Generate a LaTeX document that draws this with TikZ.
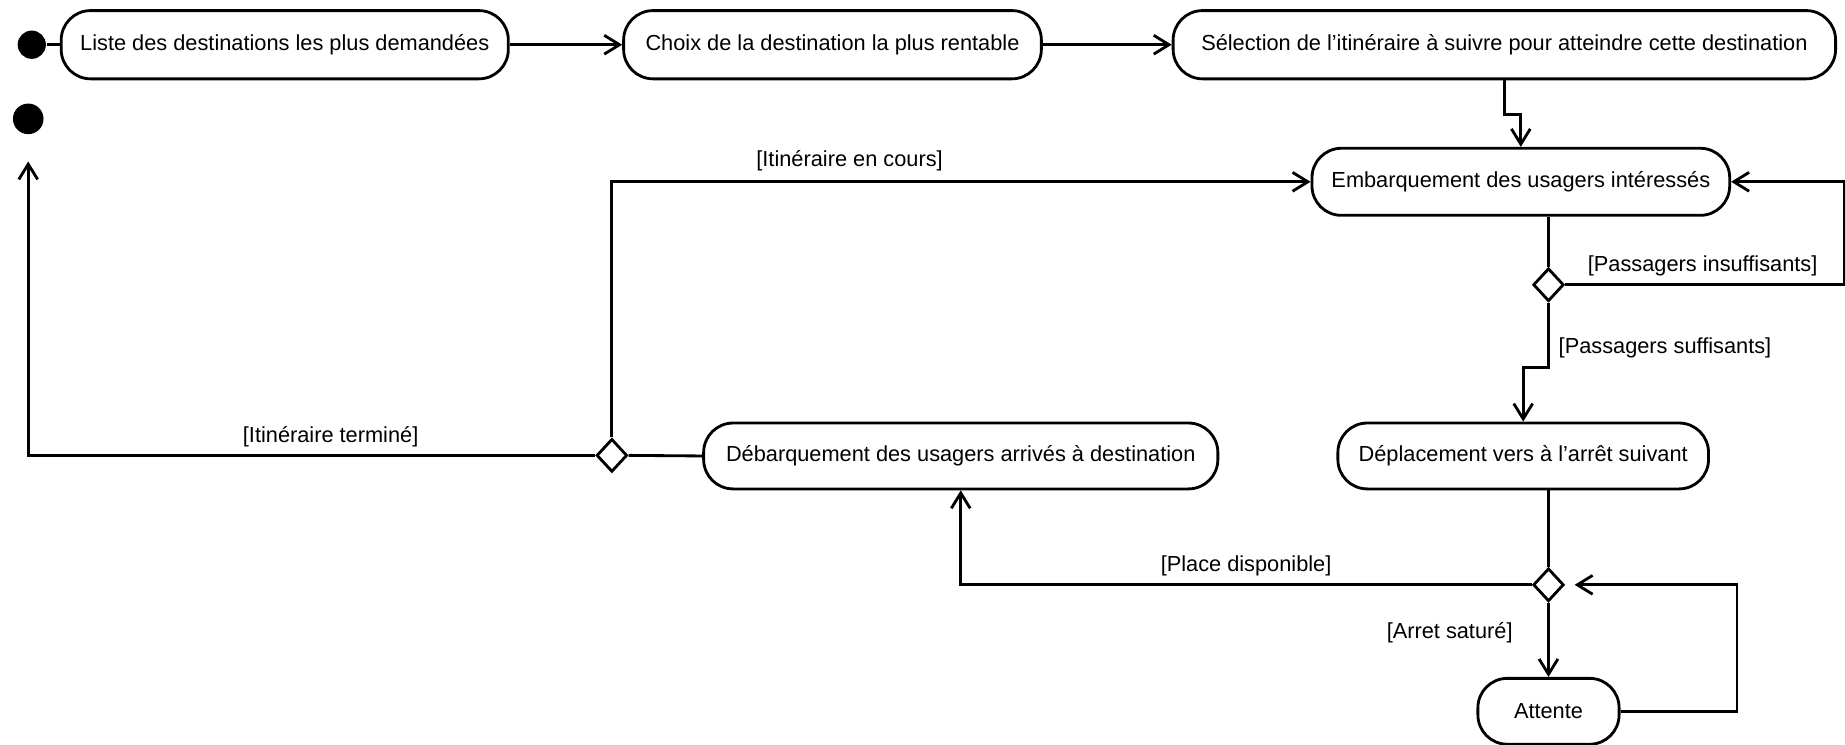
\documentclass[tikz,border=0pt]{standalone}
\usepackage{fontspec}
\setmainfont{Liberation Sans}
\usetikzlibrary{shapes.geometric}
\usetikzlibrary{arrows.meta}

\begin{document}
\begin{tikzpicture}[x=1pt,y=-1pt,line width=2.4pt,
  >={Straight Barb[length=13pt,width=16pt]},
  activite/.style={draw,rounded corners=25pt,minimum height=58pt,inner xsep=6pt,font=\fontsize{18.5}{22}\selectfont},
  choix/.style={draw,diamond,fill=white,minimum width=26pt,minimum height=28pt,inner sep=0pt},
  garde/.style={font=\fontsize{18.5}{22}\selectfont,inner sep=0pt},
  etat/.style={circle,fill=black,minimum size=24pt,inner sep=0pt}]
\useasboundingbox (0,0) rectangle (1568,633);

\node [etat] (debut) at (27,38) {};
\node [etat,minimum size=26pt] (fin) at (24,101) {};

\node [activite,minimum width=380pt] (liste) at (242,38) {Liste des destinations les plus demandées};
\node [activite,minimum width=355pt] (dest) at (707.5,38) {Choix de la destination la plus rentable};
\node [activite,minimum width=563pt] (select) at (1278.5,38) {Sélection de l'itinéraire à suivre pour atteindre cette destination};
\node [activite,minimum width=355pt,minimum height=57pt] (embq) at (1292.5,154.5) {Embarquement des usagers intéressés};
\node [activite,minimum width=315pt,minimum height=56pt] (depl) at (1294.5,387.5) {Déplacement vers à l'arrêt suivant};
\node [activite,minimum width=437pt,minimum height=56pt] (debq) at (816.5,387.5) {Débarquement des usagers arrivés à destination};
\node [activite,minimum width=120pt,minimum height=56pt] (attente) at (1316,604.5) {Attente};

\node [choix] (c1) at (520,387) {};
\node [choix] (c2) at (1316,242) {};
\node [choix] (c3) at (1316,497) {};

\draw (debut) -- (liste.west);
\draw [->] (liste.east) -- (dest.west);
\draw [->] (dest.east) -- (select.west);
\draw [->] (select.south) -- ++(0,29) -| (embq.north);
\draw (c2 |- embq.south) -- (c2.north);
\draw [->] (c2.east) -- ++(237,0) |- (embq.east);
\draw [->] (c2.south) -- ++(0,55) -| (depl.north);
\draw (c3 |- depl.south) -- (c3.north);
\draw [->] (c3.west) -| (debq.south);
\draw [->] (c3.south) -- (attente.north);
\draw [->,shorten >=8pt] (attente.east) -- ++(99,0) |- (c3.east);
\draw (debq.west) -- (c1.east);
\draw [->] (c1.north) |- (embq.west);
\draw [->,shorten >=22pt] (c1.west) -| (fin.south);

\node [garde] at (722,137) {[Itinéraire en cours]};
\node [garde] at (281,371) {[Itinéraire terminé]};
\node [garde] at (1447,226) {[Passagers insuffisants]};
\node [garde] at (1415,296) {[Passagers suffisants]};
\node [garde] at (1059,481) {[Place disponible]};
\node [garde] at (1232,538) {[Arret saturé]};

\end{tikzpicture}
\end{document}
